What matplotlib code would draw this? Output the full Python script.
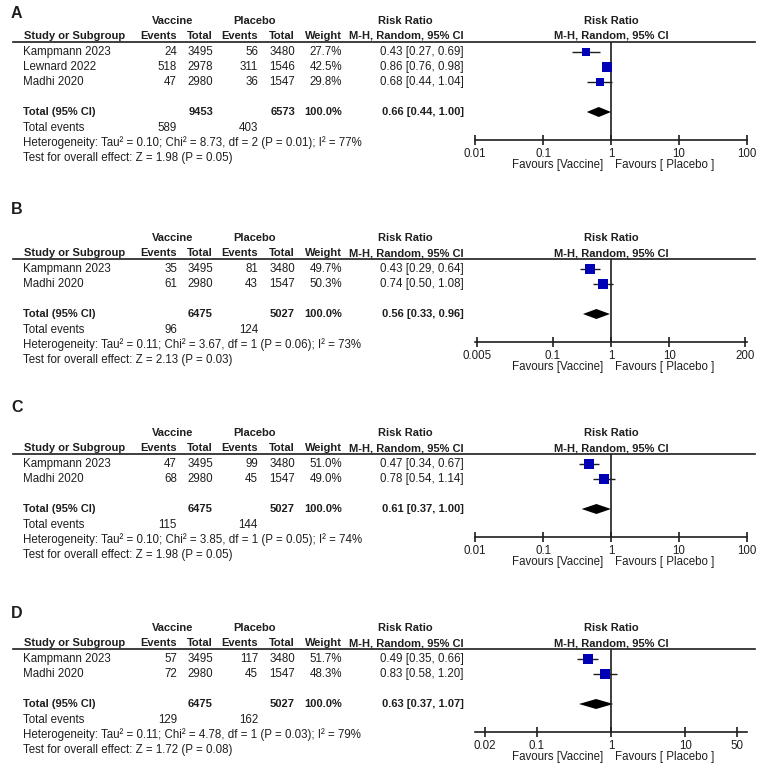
import matplotlib
matplotlib.use('Agg')
import matplotlib.pyplot as plt
from matplotlib.lines import Line2D
import numpy as np

plt.rcParams['font.family'] = ['Liberation Sans', 'DejaVu Sans']

# ==================================
# data

studies_A = ['Kampmann 2023', 'Lewnard 2022', 'Madhi 2020']
vac_events_A = [24, 518, 47]
vac_total_A = [3495, 2978, 2980]
pla_events_A = [56, 311, 36]
pla_total_A = [3480, 1546, 1547]
weight_A = [27.7, 42.5, 29.8]
rr_A = [0.43, 0.86, 0.68]
lo_A = [0.27, 0.76, 0.44]
hi_A = [0.69, 0.98, 1.04]
total_A = [0.66, 0.44, 1.00]
sums_A = [9453, 6573, 589, 403]
het_A = 'Heterogeneity: Tau² = 0.10; Chi² = 8.73, df = 2 (P = 0.01); I² = 77%'
test_A = 'Test for overall effect: Z = 1.98 (P = 0.05)'
ticks_A = [0.01, 0.1, 1, 10, 100]
ticklabels_A = ['0.01', '0.1', '1', '10', '100']

studies_B = ['Kampmann 2023', 'Madhi 2020']
vac_events_B = [35, 61]
vac_total_B = [3495, 2980]
pla_events_B = [81, 43]
pla_total_B = [3480, 1547]
weight_B = [49.7, 50.3]
rr_B = [0.43, 0.74]
lo_B = [0.29, 0.50]
hi_B = [0.64, 1.08]
total_B = [0.56, 0.33, 0.96]
sums_B = [6475, 5027, 96, 124]
het_B = 'Heterogeneity: Tau² = 0.11; Chi² = 3.67, df = 1 (P = 0.06); I² = 73%'
test_B = 'Test for overall effect: Z = 2.13 (P = 0.03)'
ticks_B = [0.005, 0.1, 1, 10, 200]
ticklabels_B = ['0.005', '0.1', '1', '10', '200']

studies_C = ['Kampmann 2023', 'Madhi 2020']
vac_events_C = [47, 68]
vac_total_C = [3495, 2980]
pla_events_C = [99, 45]
pla_total_C = [3480, 1547]
weight_C = [51.0, 49.0]
rr_C = [0.47, 0.78]
lo_C = [0.34, 0.54]
hi_C = [0.67, 1.14]
total_C = [0.61, 0.37, 1.00]
sums_C = [6475, 5027, 115, 144]
het_C = 'Heterogeneity: Tau² = 0.10; Chi² = 3.85, df = 1 (P = 0.05); I² = 74%'
test_C = 'Test for overall effect: Z = 1.98 (P = 0.05)'
ticks_C = [0.01, 0.1, 1, 10, 100]
ticklabels_C = ['0.01', '0.1', '1', '10', '100']

studies_D = ['Kampmann 2023', 'Madhi 2020']
vac_events_D = [57, 72]
vac_total_D = [3495, 2980]
pla_events_D = [117, 45]
pla_total_D = [3480, 1547]
weight_D = [51.7, 48.3]
rr_D = [0.49, 0.83]
lo_D = [0.35, 0.58]
hi_D = [0.66, 1.20]
total_D = [0.63, 0.37, 1.07]
sums_D = [6475, 5027, 129, 162]
het_D = 'Heterogeneity: Tau² = 0.11; Chi² = 4.78, df = 1 (P = 0.03); I² = 79%'
test_D = 'Test for overall effect: Z = 1.72 (P = 0.08)'
ticks_D = [0.02, 0.1, 1, 10, 50]
ticklabels_D = ['0.02', '0.1', '1', '10', '50']

panels = [
    ('A', studies_A, vac_events_A, vac_total_A, pla_events_A, pla_total_A, weight_A,
     rr_A, lo_A, hi_A, total_A, sums_A, het_A, test_A, ticks_A, ticklabels_A),
    ('B', studies_B, vac_events_B, vac_total_B, pla_events_B, pla_total_B, weight_B,
     rr_B, lo_B, hi_B, total_B, sums_B, het_B, test_B, ticks_B, ticklabels_B),
    ('C', studies_C, vac_events_C, vac_total_C, pla_events_C, pla_total_C, weight_C,
     rr_C, lo_C, hi_C, total_C, sums_C, het_C, test_C, ticks_C, ticklabels_C),
    ('D', studies_D, vac_events_D, vac_total_D, pla_events_D, pla_total_D, weight_D,
     rr_D, lo_D, hi_D, total_D, sums_D, het_D, test_D, ticks_D, ticklabels_D),
]

# ==================================
# layout (pixels)
W, H = 760, 775
line_y = [42, 259, 454, 649]      # header underline of each panel
label_y = [13, 209, 408, 613]     # panel letter
x_lim = [(0.01, 100), (1 / 217, 217), (0.01, 100), (1 / 68, 68)]

TXT = '#1e1e1e'
BLUE = '#0000b4'
FS = 8.3
FSB = 8.0

fig = plt.figure(figsize=(W / 100, H / 100), dpi=100)


def put(x, y, s, ha='left', bold=False, size=None):
    if size is None:
        size = FSB if bold else FS
    fig.text(x / W, 1 - y / H, s, ha=ha, va='center', fontsize=size,
             fontweight='bold' if bold else 'normal', color=TXT)


for k, p in enumerate(panels):
    (lab, st, ve, vt, pe, pt, wt, rr, lo, hi, tot, sums, het, test, ticks, tlabs) = p
    top = line_y[k]
    n = len(st)

    # panel letter
    put(11, label_y[k], lab, bold=True, size=11.5)

    # headers
    put(173, top - 21, 'Vaccine', ha='center', bold=True)
    put(255, top - 21, 'Placebo', ha='center', bold=True)
    put(405, top - 21, 'Risk Ratio', ha='center', bold=True)
    put(611, top - 21, 'Risk Ratio', ha='center', bold=True)
    put(24, top - 6, 'Study or Subgroup', bold=True)
    put(177, top - 6, 'Events', ha='right', bold=True)
    put(213, top - 6, 'Total', ha='right', bold=True)
    put(258, top - 6, 'Events', ha='right', bold=True)
    put(295, top - 6, 'Total', ha='right', bold=True)
    put(342, top - 6, 'Weight', ha='right', bold=True)
    put(464, top - 6, 'M-H, Random, 95% CI', ha='right', bold=True)
    put(611, top - 6, 'M-H, Random, 95% CI', ha='center', bold=True)
    fig.add_artist(Line2D([13 / W, 755 / W], [1 - top / H, 1 - top / H],
                          color=TXT, lw=1.2))

    # study rows
    for i in range(n):
        y = top + 10 + 15 * i
        put(23, y, st[i])
        put(177, y, str(ve[i]), ha='right')
        put(213, y, str(vt[i]), ha='right')
        put(258, y, str(pe[i]), ha='right')
        put(295, y, str(pt[i]), ha='right')
        put(342, y, '%.1f%%' % wt[i], ha='right')
        put(464, y, '%.2f [%.2f, %.2f]' % (rr[i], lo[i], hi[i]), ha='right')

    # total rows
    ty = top + 10 + 15 * (n + 1)
    put(23, ty, 'Total (95% CI)', bold=True)
    put(213, ty, str(sums[0]), ha='right', bold=True)
    put(295, ty, str(sums[1]), ha='right', bold=True)
    put(342, ty, '100.0%', ha='right', bold=True)
    put(464, ty, '%.2f [%.2f, %.2f]' % tuple(tot), ha='right', bold=True)
    put(23, ty + 16, 'Total events')
    put(177, ty + 16, str(sums[2]), ha='right')
    put(258, ty + 16, str(sums[3]), ha='right')
    put(23, ty + 31, het)
    put(23, ty + 46, test)

    # forest plot axes, y in pixels below the header line
    axis_off = 10 + 15 * (n + 1) + 28
    ax = fig.add_axes([475 / W, 1 - (top + axis_off) / H, 272 / W, axis_off / H])
    ax.set_xscale('log')
    ax.set_xlim(*x_lim[k])
    ax.set_ylim(axis_off, 0)
    ax.patch.set_alpha(0)
    for s in ['top', 'left', 'right']:
        ax.spines[s].set_visible(False)
    ax.spines['bottom'].set_color(TXT)
    ax.spines['bottom'].set_linewidth(1.2)
    ax.set_yticks([])
    ax.set_xticks(ticks)
    ax.set_xticklabels(tlabs)
    ax.minorticks_off()
    ax.tick_params(axis='x', direction='inout', length=7, width=1.2,
                   colors=TXT, labelsize=FS, pad=2)
    ax.axvline(1, color=TXT, lw=1.2)

    ys = 10 + 15 * np.arange(n)
    ax.hlines(ys, lo, hi, color=TXT, lw=1)
    for i in range(n):
        side = 1.42 * np.sqrt(wt[i]) * 0.72
        ax.plot(rr[i], ys[i], 's', color=BLUE, markersize=side, markeredgewidth=0)

    # pooled diamond
    dy = 10 + 15 * (n + 1)
    ax.fill([tot[1], tot[0], tot[2], tot[0]], [dy, dy - 5, dy, dy + 5],
            color='black', lw=0)

    put(603, top + axis_off + 25, 'Favours [Vaccine]', ha='right')
    put(615, top + axis_off + 25, 'Favours [ Placebo ]')

fig.savefig('out.png', dpi=100, facecolor='white')
